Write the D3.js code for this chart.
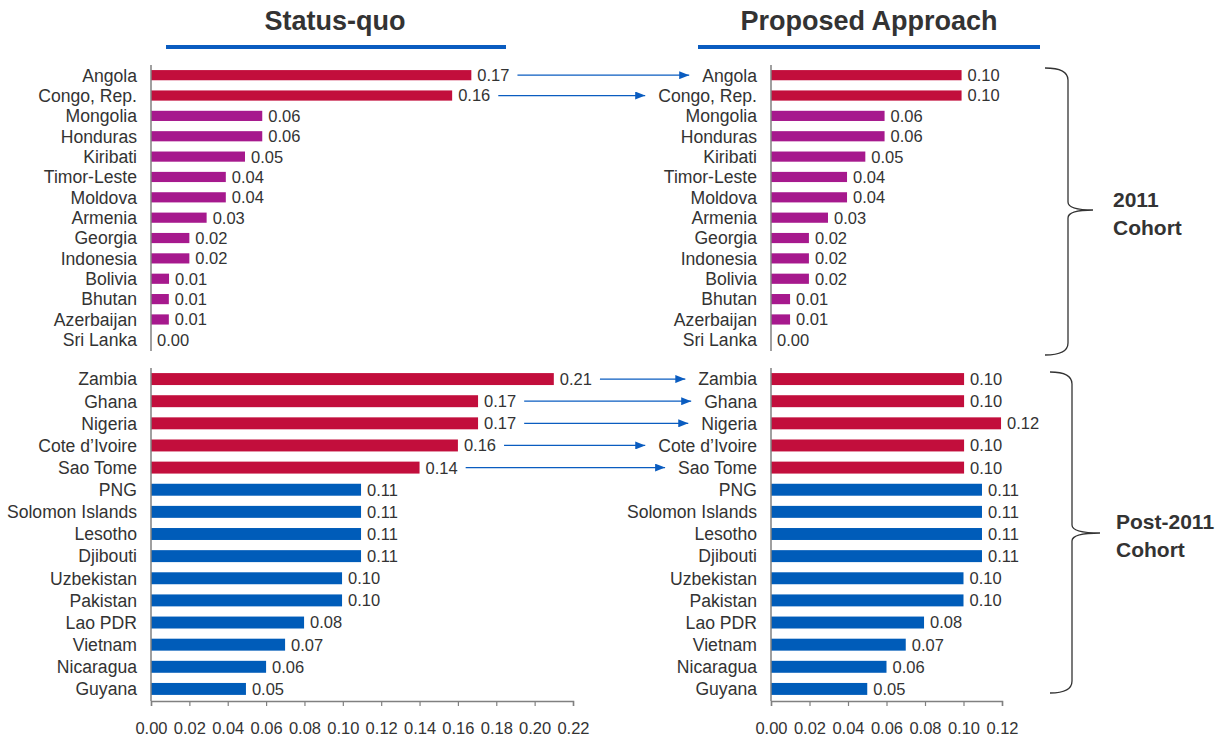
<!DOCTYPE html>
<html>
<head>
<meta charset="utf-8">
<script src="https://cdn.jsdelivr.net/npm/d3@7"></script>
<style>
  body { margin: 0; background: #fff; }
  text { font-family: "Liberation Sans", Arial, sans-serif; fill: #333; }
</style>
</head>
<body>
<div id="chart"></div>
<script>
// 2011 cohort
const names2011 = ["Angola", "Congo, Rep.", "Mongolia", "Honduras", "Kiribati", "Timor-Leste", "Moldova",
    "Armenia", "Georgia", "Indonesia", "Bolivia", "Bhutan", "Azerbaijan", "Sri Lanka"];
const statusQuo2011 = [0.167, 0.157, 0.058, 0.058, 0.049, 0.039, 0.039, 0.029, 0.020, 0.020, 0.0094, 0.0093, 0.0093, 0.0];
const proposed2011 = [0.099, 0.099, 0.059, 0.059, 0.049, 0.0395, 0.0395, 0.0296, 0.0197, 0.0197, 0.0197, 0.0099, 0.0099, 0.0];
const kind2011 = ["capped", "capped", "mid", "mid", "mid", "mid", "mid", "mid", "mid", "mid", "mid", "mid", "mid", "mid"];

// post-2011 cohort
const namesPost = ["Zambia", "Ghana", "Nigeria", "Cote d’Ivoire", "Sao Tome ", "PNG", "Solomon Islands", "Lesotho",
    "Djibouti", "Uzbekistan", "Pakistan", "Lao PDR", "Vietnam", "Nicaragua", "Guyana"];
const statusQuoPost = [0.210, 0.1705, 0.1705, 0.160, 0.140, 0.1095, 0.1095, 0.1095, 0.1095, 0.0996, 0.0996, 0.0798, 0.0699, 0.060, 0.0495];
const proposedPost = [0.1003, 0.1003, 0.1195, 0.1003, 0.1003, 0.1096, 0.1096, 0.1096, 0.1096, 0.100, 0.100, 0.0795, 0.070, 0.060, 0.050];
const kindPost = ["capped", "capped", "capped", "capped", "capped", "low", "low", "low", "low", "low", "low", "low", "low", "low", "low"];

const ticksLeft = [0, 0.02, 0.04, 0.06, 0.08, 0.10, 0.12, 0.14, 0.16, 0.18, 0.20, 0.22];
const ticksRight = [0, 0.02, 0.04, 0.06, 0.08, 0.10, 0.12];

const panelTitles = ["Status-quo", "Proposed Approach"];
const cohortLabels = [["2011", "Cohort"], ["Post-2011", "Cohort"]];

const colors = { capped: "#c20e3c", mid: "#a6198d", low: "#005cb9" };

const width = 1232;
const height = 740;

const svg = d3.select("#chart")
    .append("svg")
    .attr("width", width)
    .attr("height", height);

svg.append("defs").append("marker")
    .attr("id", "arrow")
    .attr("viewBox", "0 0 10 8")
    .attr("refX", 10)
    .attr("refY", 4)
    .attr("markerWidth", 11)
    .attr("markerHeight", 8)
    .attr("markerUnits", "userSpaceOnUse")
    .attr("orient", "auto")
    .append("path")
    .attr("d", "M0,0L10,4L0,8Z")
    .attr("fill", "#0a5cc0");

const xLeft = d3.scaleLinear().domain([0, 0.22]).range([151, 573]);
const xRight = d3.scaleLinear().domain([0, 0.12]).range([771, 1002]);

const yTop = d3.scaleBand().domain(names2011).range([65, 350]).paddingInner(0.5).paddingOuter(0.25);
const yBottom = d3.scaleBand().domain(namesPost).range([368, 700]).paddingInner(0.46).paddingOuter(0.23);

const fmt = d3.format(".2f");

// titles with blue underline
[[panelTitles[0], 335, 166, 506], [panelTitles[1], 869, 698, 1040]].forEach(([t, cx, x1, x2]) => {
    svg.append("text")
        .attr("x", cx)
        .attr("y", 30)
        .attr("text-anchor", "middle")
        .attr("font-size", 27)
        .attr("font-weight", "bold")
        .text(t);
    svg.append("line")
        .attr("x1", x1).attr("x2", x2)
        .attr("y1", 47).attr("y2", 47)
        .attr("stroke", "#0a5cc0")
        .attr("stroke-width", 4);
});

const drawGroup = (x, y, names, values, kinds) => {
    const g = svg.append("g");
    const rows = names.map((n, i) => ({ name: n, value: values[i], kind: kinds[i] }));

    g.selectAll("rect")
        .data(rows)
        .enter().append("rect")
        .attr("x", x(0))
        .attr("y", d => y(d.name))
        .attr("width", d => x(d.value) - x(0))
        .attr("height", y.bandwidth())
        .attr("fill", d => colors[d.kind]);

    g.append("line")
        .attr("x1", x(0)).attr("x2", x(0))
        .attr("y1", y.range()[0]).attr("y2", y.range()[1] + 1)
        .attr("stroke", "#808080")
        .attr("stroke-width", 1.5);

    const catLabels = g.selectAll(".cat")
        .data(rows)
        .enter().append("text")
        .attr("class", "cat")
        .attr("x", x(0) - 14)
        .attr("y", d => y(d.name) + y.bandwidth() / 2)
        .attr("dy", "0.36em")
        .attr("text-anchor", "end")
        .attr("font-size", 17.6)
        .text(d => d.name);

    const valLabels = g.selectAll(".val")
        .data(rows)
        .enter().append("text")
        .attr("class", "val")
        .attr("x", d => x(d.value) + 6)
        .attr("y", d => y(d.name) + y.bandwidth() / 2)
        .attr("dy", "0.36em")
        .attr("font-size", 16.5)
        .text(d => fmt(d.value));

    return { catLabels, valLabels };
};

const leftTop = drawGroup(xLeft, yTop, names2011, statusQuo2011, kind2011);
const rightTop = drawGroup(xRight, yTop, names2011, proposed2011, kind2011);
const leftBottom = drawGroup(xLeft, yBottom, namesPost, statusQuoPost, kindPost);
const rightBottom = drawGroup(xRight, yBottom, namesPost, proposedPost, kindPost);

// x axes under the lower group
[[xLeft, ticksLeft], [xRight, ticksRight]].forEach(([x, ticks]) => {
    const ax = svg.append("g")
        .attr("transform", `translate(0,${yBottom.range()[1] + 1})`)
        .call(d3.axisBottom(x).tickValues(ticks).tickFormat(fmt).tickSize(5).tickSizeOuter(5).tickPadding(16));
    ax.select(".domain").attr("stroke", "#808080").attr("stroke-width", 1.5);
    ax.selectAll(".tick line").attr("stroke", "#808080").attr("stroke-width", 1.2);
    ax.selectAll("text")
        .attr("font-size", 16.5)
        .attr("font-family", "Liberation Sans, Arial, sans-serif")
        .attr("fill", "#333");
});

// arrows from status-quo value to the proposed label, for capped rows
const drawArrows = (left, right, kinds) => {
    const lv = left.valLabels.nodes();
    const rc = right.catLabels.nodes();
    kinds.forEach((k, i) => {
        if (k !== "capped") return;
        const start = +lv[i].getAttribute("x") + lv[i].getComputedTextLength() + 8;
        const end = +rc[i].getAttribute("x") - rc[i].getComputedTextLength() - 13;
        const yy = +lv[i].getAttribute("y");
        svg.append("line")
            .attr("x1", start).attr("x2", end)
            .attr("y1", yy).attr("y2", yy)
            .attr("stroke", "#0a5cc0")
            .attr("stroke-width", 1.3)
            .attr("marker-end", "url(#arrow)");
    });
};
drawArrows(leftTop, rightTop, kind2011);
drawArrows(leftBottom, rightBottom, kindPost);

// braces with cohort labels
const brace = (xl, xv, xt, y0, ym, y1) => {
    const p = d3.path();
    p.moveTo(xl, y0);
    p.quadraticCurveTo(xv, y0, xv, y0 + 12);
    p.lineTo(xv, ym - 8);
    p.quadraticCurveTo(xv, ym, xt, ym);
    p.quadraticCurveTo(xv, ym, xv, ym + 8);
    p.lineTo(xv, y1 - 12);
    p.quadraticCurveTo(xv, y1, xl, y1);
    return p.toString();
};

[[1045, 1068, 1093, 68, 210, 355, 1113, 207, cohortLabels[0]],
 [1050, 1072, 1100, 372, 533, 693, 1116, 529, cohortLabels[1]]].forEach(([xl, xv, xt, y0, ym, y1, tx, ty, lines]) => {
    svg.append("path")
        .attr("d", brace(xl, xv, xt, y0, ym, y1))
        .attr("fill", "none")
        .attr("stroke", "#333")
        .attr("stroke-width", 1.3);
    svg.append("text")
        .attr("x", tx)
        .attr("y", ty)
        .attr("font-size", 21)
        .attr("font-weight", "bold")
        .selectAll("tspan")
        .data(lines)
        .enter().append("tspan")
        .attr("x", tx)
        .attr("dy", (d, i) => i === 0 ? 0 : 28)
        .text(d => d);
});
</script>
</body>
</html>
